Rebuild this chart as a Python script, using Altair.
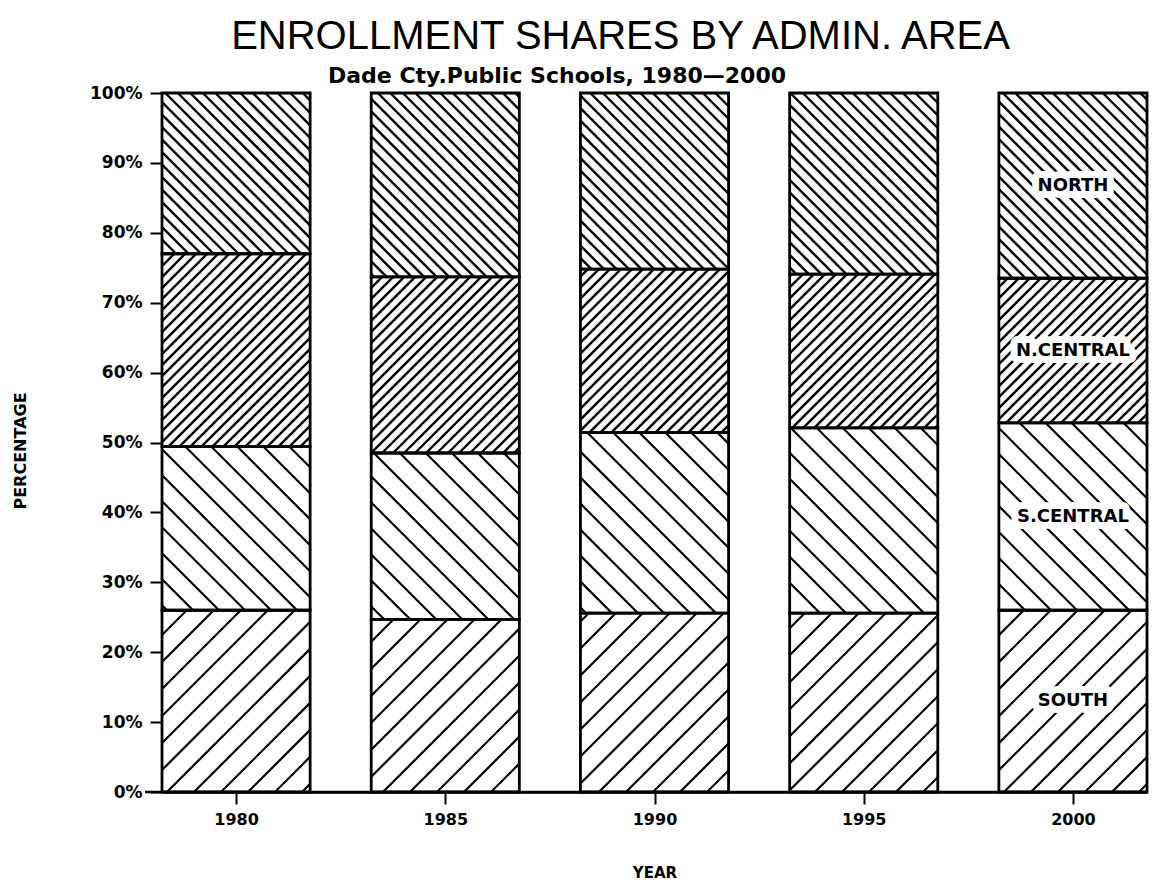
import math
import altair as alt
import pandas as pd

# ---- data ----
years = [1980, 1985, 1990, 1995, 2000]
areas = ["SOUTH", "S.CENTRAL", "N.CENTRAL", "NORTH"]
south = [26.0, 24.7, 25.6, 25.6, 26.0]
s_central = [23.4, 23.8, 25.8, 26.5, 26.8]
n_central = [27.6, 25.2, 23.4, 22.0, 20.7]
north = [23.0, 26.3, 25.2, 25.9, 26.5]
y_ticks = [0, 10, 20, 30, 40, 50, 60, 70, 80, 90, 100]

title_text = "ENROLLMENT SHARES BY ADMIN. AREA"
subtitle_text = "Dade Cty.Public Schools, 1980\u20142000"

# ---- layout / style ----
W, H = 985, 699
XMIN, XMAX = 1978.23, 2001.77
HALF = 1.77
KX = W / (XMAX - XMIN)
KY = H / 100.0
hatch_style = {
    "SOUTH": ("/", 27.0, 2.2),
    "S.CENTRAL": ("\\", 26.0, 2.2),
    "N.CENTRAL": ("/", 11.0, 2.4),
    "NORTH": ("\\", 12.5, 2.4),
}

shares = {"SOUTH": south, "S.CENTRAL": s_central, "N.CENTRAL": n_central, "NORTH": north}

seg_rows = []
for i, yr in enumerate(years):
    base = 0.0
    for a in areas:
        v = shares[a][i]
        top = base + v if a != "NORTH" else 100.0
        seg_rows.append({"year": yr, "area": a, "x": yr - HALF, "x2": yr + HALF,
                         "y": base, "y2": top})
        base = top
segs = pd.DataFrame(seg_rows)


def hatch_lines(r):
    direction, sp, lw = hatch_style[r["area"]]
    Xa = (r["x"] - XMIN) * KX
    Xb = (r["x2"] - XMIN) * KX
    Ya = r["y"] * KY
    Yb = r["y2"] * KY
    out = []
    if direction == "/":
        dmin, dmax = Xa - Yb, Xb - Ya
        for k in range(math.ceil(dmin / sp), math.floor(dmax / sp) + 1):
            d = k * sp + 0.5 * sp * 0.37
            X1 = max(Xa, Ya + d)
            X2 = min(Xb, Yb + d)
            if X2 - X1 > 0.8:
                out.append((X1, X1 - d, X2, X2 - d, lw))
    else:
        dmin, dmax = Xa + Ya, Xb + Yb
        for k in range(math.ceil(dmin / sp), math.floor(dmax / sp) + 1):
            d = k * sp + 0.5 * sp * 0.37
            X1 = max(Xa, d - Yb)
            X2 = min(Xb, d - Ya)
            if X2 - X1 > 0.8:
                out.append((X1, d - X1, X2, d - X2, lw))
    rows = []
    for X1, Y1, X2, Y2, lw in out:
        rows.append({"x": X1 / KX + XMIN, "y": Y1 / KY, "x2": X2 / KX + XMIN,
                     "y2": Y2 / KY, "lw": lw, "area": r["area"]})
    return rows


hrows = []
for _, r in segs.iterrows():
    hrows.extend(hatch_lines(r))
hatch = pd.DataFrame(hrows)

last = segs[segs["year"] == years[-1]].copy()
last["ym"] = (last["y"] + last["y2"]) / 2
last["xm"] = float(years[-1])
labels = last[["area", "xm", "ym"]].rename(columns={"xm": "x", "ym": "y"})

FONT = "DejaVu Sans"

xscale = alt.Scale(domain=[XMIN, XMAX], nice=False, zero=False)
yscale = alt.Scale(domain=[0, 100], nice=False)

xaxis = alt.Axis(values=years, format="d", title="YEAR", grid=False,
                 tickSize=12, tickWidth=2, tickColor="black",
                 domainColor="black", domainWidth=2.5,
                 labelFont=FONT, labelFontWeight="bold", labelFontSize=16,
                 labelColor="black", labelPadding=7,
                 titleFont=FONT, titleFontWeight="bold", titleFontSize=15,
                 titleColor="black", titleY=80, titleBaseline="middle")
yaxis = alt.Axis(values=y_ticks, labelExpr="datum.value + '%'", title="PERCENTAGE",
                 grid=False, tickSize=12, tickWidth=2, tickColor="black",
                 domainColor="black", domainWidth=2.5,
                 labelFont=FONT, labelFontWeight="bold", labelFontSize=17,
                 labelColor="black", labelPadding=8,
                 titleFont=FONT, titleFontWeight="bold", titleFontSize=16,
                 titleColor="black", titleX=-142, titleY=H / 2 + 8,
                 titleBaseline="middle", titleAlign="center")

fills = alt.Chart(segs).mark_rect(fill="white", stroke=None).encode(
    x=alt.X("x:Q", scale=xscale, axis=xaxis),
    x2="x2:Q",
    y=alt.Y("y:Q", scale=yscale, axis=yaxis),
    y2="y2:Q",
)

hatch_layer = alt.Chart(hatch).mark_rule(color="black", strokeCap="butt").encode(
    x=alt.X("x:Q", scale=xscale, axis=xaxis),
    x2="x2:Q",
    y=alt.Y("y:Q", scale=yscale, axis=yaxis),
    y2="y2:Q",
    strokeWidth=alt.StrokeWidth("lw:Q", scale=None, legend=None),
)

outlines = alt.Chart(segs).mark_rect(fillOpacity=0, stroke="black", strokeWidth=2.8).encode(
    x=alt.X("x:Q", scale=xscale, axis=xaxis),
    x2="x2:Q",
    y=alt.Y("y:Q", scale=yscale, axis=yaxis),
    y2="y2:Q",
)

# baseline extends slightly left of the y axis, as in the reference
base_ext = alt.Chart(pd.DataFrame({"k": [0]})).mark_rule(color="black", strokeWidth=2.5).encode(
    x=alt.value(-17), x2=alt.value(W), y=alt.value(H)
)

halo = alt.Chart(labels).mark_text(font=FONT, fontWeight="bold", fontSize=18,
                                   color="white", stroke="white", strokeWidth=14,
                                   strokeJoin="round").encode(
    x=alt.X("x:Q", scale=xscale, axis=xaxis),
    y=alt.Y("y:Q", scale=yscale, axis=yaxis),
    text="area:N",
)
label_text = alt.Chart(labels).mark_text(font=FONT, fontWeight="bold", fontSize=18,
                                         color="black").encode(
    x=alt.X("x:Q", scale=xscale, axis=xaxis),
    y=alt.Y("y:Q", scale=yscale, axis=yaxis),
    text="area:N",
)

subtitle = alt.Chart(pd.DataFrame({"t": [subtitle_text]})).mark_text(
    font=FONT, fontWeight="bold", fontSize=22, color="black", baseline="alphabetic"
).encode(x=alt.value(395), y=alt.value(-10), text="t:N")

chart = alt.layer(fills, hatch_layer, outlines, base_ext, halo, label_text, subtitle).properties(
    width=W, height=H,
    autosize=alt.AutoSizeParams(type="none"),
    padding={"left": 154, "top": 85, "right": 3, "bottom": 90},
    title=alt.TitleParams(title_text, font="Liberation Sans", fontSize=40,
                          fontWeight="normal", color="black", anchor="middle",
                          dx=-34, offset=8, frame="group"),
    background="white",
).configure_view(stroke=None)

chart.save("out.html", embed_options={"renderer": "svg", "actions": False})
